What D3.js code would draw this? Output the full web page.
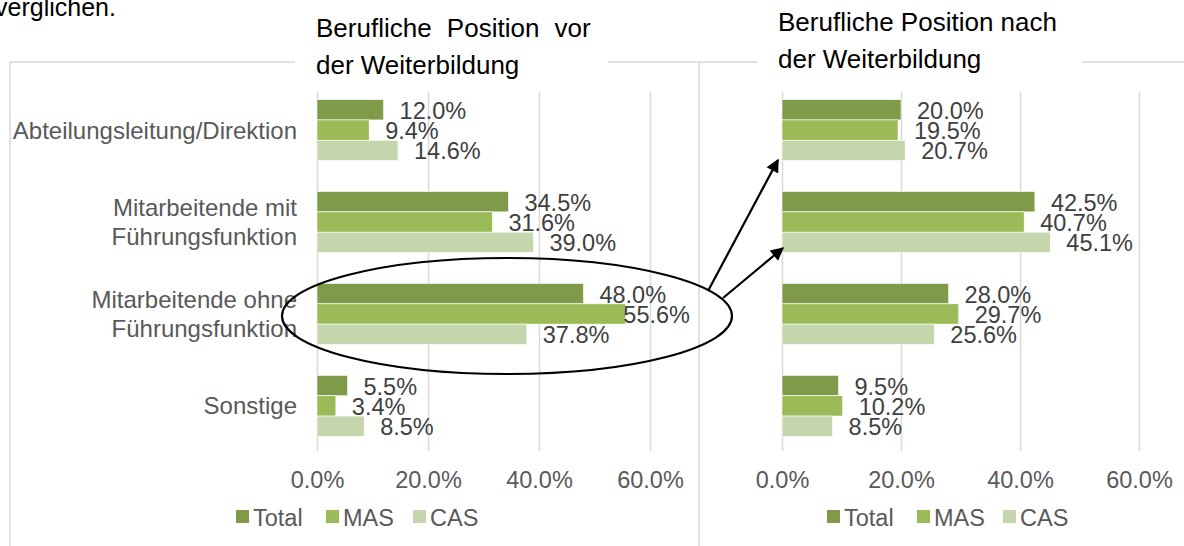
<!DOCTYPE html>
<html><head><meta charset="utf-8">
<script src="https://cdn.jsdelivr.net/npm/d3@7"></script>
<style>
html,body{margin:0;padding:0;background:#fff;}
svg{display:block;font-family:"Liberation Sans",Arial,sans-serif;}
</style></head>
<body>
<svg id="chart" width="1184" height="546"></svg>
<script>
const categories = ["Abteilungsleitung/Direktion", "Mitarbeitende mit Führungsfunktion", "Mitarbeitende ohne Führungsfunktion", "Sonstige"];
const seriesNames = ["Total", "MAS", "CAS"];
const colors = ["#7F9A49", "#9BBB59", "#C5D6AC"];
// vor der Weiterbildung
const beforeTotal = [0.120, 0.345, 0.480, 0.055];
const beforeMAS   = [0.094, 0.316, 0.556, 0.034];
const beforeCAS   = [0.146, 0.390, 0.378, 0.085];
// nach der Weiterbildung
const afterTotal = [0.200, 0.425, 0.280, 0.095];
const afterMAS   = [0.195, 0.407, 0.297, 0.102];
const afterCAS   = [0.207, 0.451, 0.256, 0.085];
const tickValues = [0, 0.2, 0.4, 0.6];
const titleBefore = ["Berufliche Position vor", "der Weiterbildung"];
const titleAfter = ["Berufliche Position nach", "der Weiterbildung"];

const svg = d3.select("#chart");
const fmt = d3.format(".1%");
const FS = 23.5;

// top-left cut-off document text
svg.append("text").attr("x", -5).attr("y", 16).attr("font-size", 25).attr("fill", "#000").text("verglichen.");

// chart borders
const border = "#d9d9d9";
function hline(x1, x2, y) { svg.append("line").attr("x1", x1).attr("x2", x2).attr("y1", y).attr("y2", y).attr("stroke", border).attr("stroke-width", 1.5); }
function vline(x, y1, y2) { svg.append("line").attr("x1", x).attr("x2", x).attr("y1", y1).attr("y2", y2).attr("stroke", border).attr("stroke-width", 1.5); }
hline(10, 295, 62); hline(608, 699, 62); vline(10, 62, 546);
hline(699, 757, 62); hline(1082, 1184, 62); vline(699, 62, 546);

const y = d3.scaleBand().domain(categories).range([84, 452]).paddingInner(0.337).paddingOuter(0.17);
const ySub = d3.scaleBand().domain(seriesNames).range([0, y.bandwidth()]);

function panel(cfg) {
  const x = d3.scaleLinear().domain([0, 0.6]).range([cfg.x0, cfg.x1]);
  const g = svg.append("g");
  // gridlines
  g.append("g").attr("transform", "translate(0,451)")
    .call(d3.axisBottom(x).tickValues(tickValues).tickSize(-359).tickFormat(""))
    .call(a => a.select(".domain").remove())
    .call(a => a.selectAll(".tick line").attr("stroke", "#d9d9d9").attr("stroke-width", 1.5));
  // tick labels
  g.append("g").attr("transform", "translate(0,452)")
    .call(d3.axisBottom(x).tickValues(tickValues).tickSize(0).tickPadding(19).tickFormat(fmt))
    .call(a => a.select(".domain").remove())
    .call(a => a.selectAll(".tick text").attr("font-size", FS).attr("fill", "#595959").attr("font-family", "Liberation Sans, Arial, sans-serif"));
  // bars
  const rows = [];
  categories.forEach((c, i) => {
    cfg.series.forEach((s, j) => rows.push({cat: c, name: seriesNames[j], v: s[i], color: colors[j]}));
  });
  g.selectAll("rect.bar").data(rows).join("rect").attr("class", "bar")
    .attr("x", x(0)).attr("y", d => y(d.cat) + ySub(d.name))
    .attr("width", d => x(d.v) - x(0)).attr("height", ySub.bandwidth())
    .attr("fill", d => d.color).attr("stroke", "#fff").attr("stroke-width", 0.6);
  // value labels
  g.selectAll("text.val").data(rows).join("text").attr("class", "val")
    .attr("y", d => y(d.cat) + ySub(d.name) + ySub.bandwidth() / 2 + 1)
    .attr("dominant-baseline", "central")
    .attr("font-size", FS).attr("fill", "#404040")
    .text(d => fmt(d.v))
    .attr("x", function(d) {
      const w = this.getComputedTextLength();
      return Math.min(x(d.v) + 16, cfg.labelMax - w);
    });
  // title
  cfg.title.forEach((t, i) => {
    g.append("text").attr("x", cfg.titleX).attr("y", cfg.titleY + i * 37)
      .attr("font-size", 26).attr("fill", "#000")
      .attr("word-spacing", i === 0 ? cfg.ws : 0).text(t);
  });
  // legend
  const lg = g.append("g");
  seriesNames.forEach((n, j) => {
    lg.append("rect").attr("x", cfg.legendX[j]).attr("y", 510).attr("width", 13).attr("height", 13).attr("fill", colors[j]);
    lg.append("text").attr("x", cfg.legendX[j] + 17).attr("y", 526).attr("font-size", FS).attr("fill", "#595959").text(n);
  });
  return x;
}

panel({x0: 317, x1: 650, labelMax: 690, series: [beforeTotal, beforeMAS, beforeCAS],
  title: titleBefore, titleX: 316, titleY: 37, ws: 8, legendX: [236, 326, 413]});
panel({x0: 782, x1: 1139, labelMax: 1184, series: [afterTotal, afterMAS, afterCAS],
  title: titleAfter, titleX: 778, titleY: 31, ws: 0, legendX: [827, 917, 1003]});

// category labels (left panel only)
categories.forEach(c => {
  const lines = c.length > 27 ? [c.slice(0, c.lastIndexOf(" ")), c.slice(c.lastIndexOf(" ") + 1)] : [c];
  const cy = y(c) + y.bandwidth() / 2;
  lines.forEach((ln, i) => {
    svg.append("text").attr("x", 297).attr("y", cy + (i - (lines.length - 1) / 2) * 29)
      .attr("text-anchor", "end").attr("dominant-baseline", "central")
      .attr("font-size", 24).attr("fill", "#595959").text(ln);
  });
});

// annotation: ellipse and arrows
svg.append("ellipse").attr("cx", 507).attr("cy", 316).attr("rx", 225).attr("ry", 58)
  .attr("fill", "none").attr("stroke", "#000").attr("stroke-width", 2.2);
const defs = svg.append("defs");
defs.append("marker").attr("id", "ah").attr("viewBox", "0 0 10 10").attr("refX", 9).attr("refY", 5)
  .attr("markerWidth", 7).attr("markerHeight", 6).attr("markerUnits", "strokeWidth").attr("orient", "auto")
  .append("path").attr("d", "M0,0 L10,5 L0,10 Z").attr("fill", "#000");
[[708, 291, 778, 160], [723, 298, 783, 248]].forEach(a => {
  svg.append("line").attr("x1", a[0]).attr("y1", a[1]).attr("x2", a[2]).attr("y2", a[3])
    .attr("stroke", "#000").attr("stroke-width", 2.2).attr("marker-end", "url(#ah)");
});
</script>
</body></html>
